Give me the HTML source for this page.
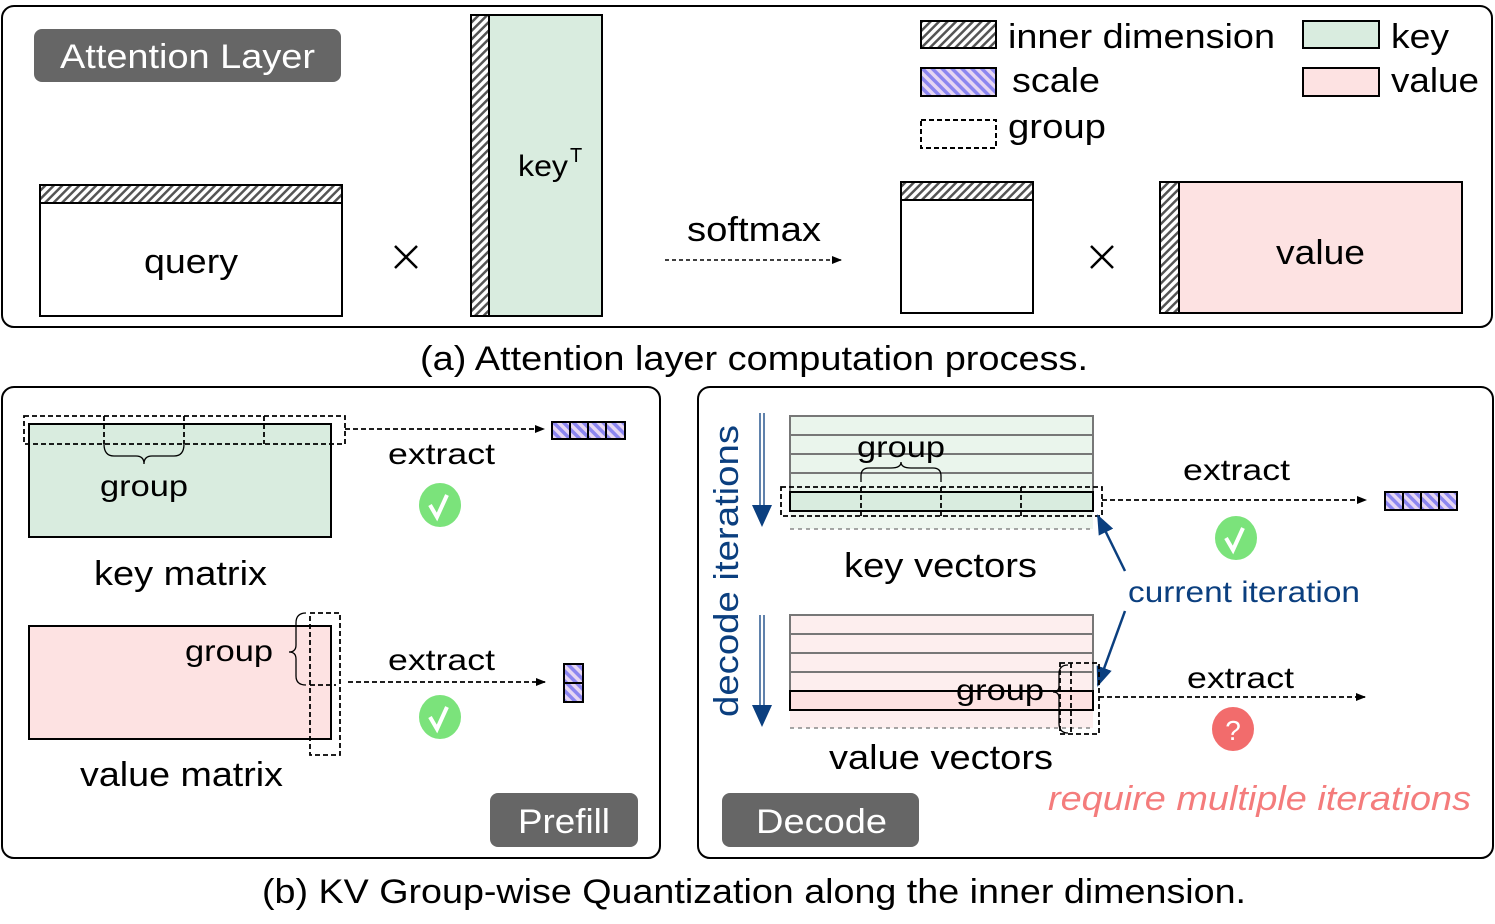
<!DOCTYPE html>
<html><head><meta charset="utf-8"><style>
html,body{margin:0;padding:0;background:#fff;}
svg{display:block;font-family:"Liberation Sans",sans-serif;}
</style></head><body>
<svg width="1495" height="924" viewBox="0 0 1495 924" xmlns="http://www.w3.org/2000/svg">
<defs>
<pattern id="hat" width="6" height="6" patternUnits="userSpaceOnUse" patternTransform="rotate(45)">
<rect width="6" height="6" fill="#fff"/><rect width="2.5" height="6" fill="#555"/></pattern>
<pattern id="sc" width="7" height="7" patternUnits="userSpaceOnUse" patternTransform="rotate(-45)">
<rect width="7" height="7" fill="#e6d6f2"/><rect width="3.5" height="7" fill="#8c86f0"/></pattern>
<marker id="ah" markerWidth="10" markerHeight="8" refX="9" refY="4" orient="auto" markerUnits="userSpaceOnUse">
<path d="M0,0 L10,4 L0,8 Z" fill="#000"/></marker>
<marker id="bh" markerWidth="20" markerHeight="16" refX="18" refY="8" orient="auto" markerUnits="userSpaceOnUse">
<path d="M0,0 L20,8 L0,16 Z" fill="#0b3f7f"/></marker>
</defs>

<!-- Top panel -->
<rect x="2" y="6" width="1490" height="321" rx="12" fill="none" stroke="#000" stroke-width="2"/>
<rect x="34" y="29" width="307" height="53" rx="8" fill="#666"/>
<text x="60" y="68" font-size="34" fill="#fff" textLength="255" lengthAdjust="spacingAndGlyphs">Attention Layer</text>

<rect x="40" y="185" width="302" height="18" fill="url(#hat)" stroke="#000" stroke-width="2"/>
<rect x="40" y="203" width="302" height="113" fill="#fff" stroke="#000" stroke-width="2"/>
<text x="144" y="273" font-size="34" textLength="94" lengthAdjust="spacingAndGlyphs">query</text>
<path d="M395,246 l22,22 M417,246 l-22,22" stroke="#000" stroke-width="2.5"/>

<rect x="471" y="15" width="18" height="301" fill="url(#hat)" stroke="#000" stroke-width="2"/>
<rect x="489" y="15" width="113" height="301" fill="#d9ecdf" stroke="#000" stroke-width="2"/>
<text x="518" y="176" font-size="30" textLength="50" lengthAdjust="spacingAndGlyphs">key</text><text x="570" y="162" font-size="20">T</text>

<text x="687" y="241" font-size="34" textLength="134" lengthAdjust="spacingAndGlyphs">softmax</text>
<line x1="665" y1="260" x2="841" y2="260" stroke="#000" stroke-width="1.5" stroke-dasharray="4,3" marker-end="url(#ah)"/>

<rect x="901" y="182" width="132" height="18" fill="url(#hat)" stroke="#000" stroke-width="2"/>
<rect x="901" y="200" width="132" height="113" fill="#fff" stroke="#000" stroke-width="2"/>
<path d="M1091,246 l22,22 M1113,246 l-22,22" stroke="#000" stroke-width="2.5"/>

<rect x="1160" y="182" width="19" height="131" fill="url(#hat)" stroke="#000" stroke-width="2"/>
<rect x="1179" y="182" width="283" height="131" fill="#fde2e2" stroke="#000" stroke-width="2"/>
<text x="1276" y="264" font-size="34" textLength="89" lengthAdjust="spacingAndGlyphs">value</text>

<!-- legend -->
<rect x="921" y="21" width="75" height="27" fill="url(#hat)" stroke="#000" stroke-width="2"/>
<text x="1008" y="48" font-size="34" textLength="267" lengthAdjust="spacingAndGlyphs">inner dimension</text>
<rect x="1303" y="21" width="76" height="27" fill="#d9ecdf" stroke="#000" stroke-width="2"/>
<text x="1391" y="48" font-size="34" textLength="58" lengthAdjust="spacingAndGlyphs">key</text>
<rect x="921" y="68" width="75" height="28" fill="url(#sc)" stroke="#000" stroke-width="2"/>
<text x="1012" y="92" font-size="34" textLength="88" lengthAdjust="spacingAndGlyphs">scale</text>
<rect x="1303" y="68" width="76" height="28" fill="#fde2e2" stroke="#000" stroke-width="2"/>
<text x="1391" y="92" font-size="34" textLength="88" lengthAdjust="spacingAndGlyphs">value</text>
<rect x="921" y="120" width="75" height="28" fill="none" stroke="#000" stroke-width="2" stroke-dasharray="5,3"/>
<text x="1008" y="138" font-size="34" textLength="98" lengthAdjust="spacingAndGlyphs">group</text>

<text x="420" y="370" font-size="34" textLength="668" lengthAdjust="spacingAndGlyphs">(a) Attention layer computation process.</text>

<!-- Bottom left -->
<rect x="2" y="387" width="658" height="471" rx="12" fill="none" stroke="#000" stroke-width="2"/>
<rect x="29" y="424" width="302" height="113" fill="#d9ecdf" stroke="#000" stroke-width="2"/>
<g fill="none" stroke="#000" stroke-width="1.8" stroke-dasharray="5,3">
<rect x="24" y="416" width="321" height="28"/>
<line x1="104" y1="416" x2="104" y2="444"/><line x1="184" y1="416" x2="184" y2="444"/><line x1="264" y1="416" x2="264" y2="444"/>
</g>
<path d="M104,444 q0,12 10,12 h22 q8,0 8,8 q0,-8 8,-8 h22 q10,0 10,-12" fill="none" stroke="#000" stroke-width="1.3"/>
<text x="100" y="496" font-size="30" textLength="88" lengthAdjust="spacingAndGlyphs">group</text>
<line x1="345" y1="429" x2="544" y2="429" stroke="#000" stroke-width="1.8" stroke-dasharray="5,3" marker-end="url(#ah)"/>
<g stroke="#000" stroke-width="2"><rect x="552" y="422" width="18" height="17" fill="url(#sc)"/><rect x="570" y="422" width="18" height="17" fill="url(#sc)"/><rect x="588" y="422" width="18" height="17" fill="url(#sc)"/><rect x="606" y="422" width="19" height="17" fill="url(#sc)"/></g>
<text x="388" y="464" font-size="30" textLength="107" lengthAdjust="spacingAndGlyphs">extract</text>
<ellipse cx="440" cy="505" rx="21" ry="22" fill="#7be37b"/><path d="M430,505 l7,12 l10,-22" fill="none" stroke="#fff" stroke-width="4"/>
<text x="94" y="585" font-size="34" textLength="173" lengthAdjust="spacingAndGlyphs">key matrix</text>

<rect x="29" y="626" width="302" height="113" fill="#fde2e2" stroke="#000" stroke-width="2"/>
<g fill="none" stroke="#000" stroke-width="1.8" stroke-dasharray="5,3">
<rect x="310" y="613" width="30" height="142"/><line x1="310" y1="685" x2="336" y2="685"/>
</g>
<path d="M306,613 q-10,0 -10,10 v22 q0,7 -7,7 q7,0 7,7 v17 q0,9 10,9" fill="none" stroke="#000" stroke-width="1.3"/>
<text x="185" y="661" font-size="30" textLength="88" lengthAdjust="spacingAndGlyphs">group</text>
<line x1="348" y1="682" x2="545" y2="682" stroke="#000" stroke-width="1.8" stroke-dasharray="5,3" marker-end="url(#ah)"/>
<g stroke="#000" stroke-width="2"><rect x="564" y="664" width="19" height="19" fill="url(#sc)"/><rect x="564" y="683" width="19" height="19" fill="url(#sc)"/></g>
<text x="388" y="670" font-size="30" textLength="107" lengthAdjust="spacingAndGlyphs">extract</text>
<ellipse cx="440" cy="717" rx="21" ry="22" fill="#7be37b"/><path d="M430,717 l7,12 l10,-22" fill="none" stroke="#fff" stroke-width="4"/>
<text x="80" y="786" font-size="34" textLength="203" lengthAdjust="spacingAndGlyphs">value matrix</text>
<rect x="490" y="793" width="148" height="54" rx="8" fill="#666"/>
<text x="518" y="833" font-size="34" fill="#fff" textLength="92" lengthAdjust="spacingAndGlyphs">Prefill</text>

<!-- Bottom right -->
<rect x="698" y="387" width="795" height="471" rx="12" fill="none" stroke="#000" stroke-width="2"/>
<text transform="translate(738,717) rotate(-90)" font-size="34" fill="#0b3f7f" textLength="292" lengthAdjust="spacingAndGlyphs">decode iterations</text>
<g stroke="#0b3f7f" stroke-width="1.3" fill="none">
<path d="M760,413 v92 M764,413 v92"/><path d="M760,615 v92 M764,615 v92"/></g>
<path d="M752,505 h20 l-10,22 z M752,705 h20 l-10,22 z" fill="#0b3f7f"/>

<!-- key vectors -->
<rect x="790" y="511" width="303" height="18" fill="#eef6ef"/>
<line x1="790" y1="529" x2="1093" y2="529" stroke="#888" stroke-width="1.5" stroke-dasharray="4,4"/>
<rect x="790" y="416" width="303" height="76" fill="#eaf5ec" stroke="#777" stroke-width="2"/>
<g stroke="#777" stroke-width="2"><line x1="790" y1="435" x2="1093" y2="435"/><line x1="790" y1="454" x2="1093" y2="454"/><line x1="790" y1="473" x2="1093" y2="473"/></g>
<rect x="790" y="492" width="303" height="19" fill="#d9ecdf" stroke="#000" stroke-width="2"/>
<g fill="none" stroke="#000" stroke-width="1.8" stroke-dasharray="5,3">
<rect x="781" y="487" width="321" height="29"/>
<line x1="861" y1="487" x2="861" y2="516"/><line x1="941" y1="487" x2="941" y2="516"/><line x1="1021" y1="487" x2="1021" y2="516"/>
</g>
<path d="M861,482 v-6 q0,-8 8,-8 h22 q10,0 10,-6 q0,6 10,6 h22 q8,0 8,8 v6" fill="none" stroke="#000" stroke-width="1.3"/>
<text x="857" y="457" font-size="30" textLength="88" lengthAdjust="spacingAndGlyphs">group</text>
<line x1="1102" y1="500" x2="1366" y2="500" stroke="#000" stroke-width="1.8" stroke-dasharray="5,3" marker-end="url(#ah)"/>
<g stroke="#000" stroke-width="2"><rect x="1385" y="492" width="18" height="18" fill="url(#sc)"/><rect x="1403" y="492" width="18" height="18" fill="url(#sc)"/><rect x="1421" y="492" width="18" height="18" fill="url(#sc)"/><rect x="1439" y="492" width="18" height="18" fill="url(#sc)"/></g>
<text x="1183" y="480" font-size="30" textLength="107" lengthAdjust="spacingAndGlyphs">extract</text>
<ellipse cx="1236" cy="538" rx="21" ry="22" fill="#7be37b"/><path d="M1226,538 l7,12 l10,-22" fill="none" stroke="#fff" stroke-width="4"/>
<text x="844" y="577" font-size="34" textLength="193" lengthAdjust="spacingAndGlyphs">key vectors</text>

<text x="1128" y="602" font-size="30" fill="#0b3f7f" textLength="232" lengthAdjust="spacingAndGlyphs">current iteration</text>
<line x1="1125" y1="571" x2="1098" y2="516" stroke="#0b3f7f" stroke-width="2.5" marker-end="url(#bh)"/>
<line x1="1125" y1="611" x2="1098" y2="685" stroke="#0b3f7f" stroke-width="2.5" marker-end="url(#bh)"/>

<!-- value vectors -->
<rect x="790" y="710" width="303" height="18" fill="#fdeeee"/>
<line x1="790" y1="728" x2="1093" y2="728" stroke="#888" stroke-width="1.5" stroke-dasharray="4,4"/>
<rect x="790" y="615" width="303" height="76" fill="#fdeeee" stroke="#777" stroke-width="2"/>
<g stroke="#777" stroke-width="2"><line x1="790" y1="634" x2="1093" y2="634"/><line x1="790" y1="653" x2="1093" y2="653"/><line x1="790" y1="672" x2="1093" y2="672"/></g>
<rect x="790" y="691" width="303" height="19" fill="#fde2e2" stroke="#000" stroke-width="2"/>
<g fill="none" stroke="#000" stroke-width="1.8" stroke-dasharray="5,3">
<rect x="1060" y="663" width="39" height="71"/><line x1="1071" y1="663" x2="1071" y2="734"/>
</g>
<path d="M1068,665 q-9,0 -9,9 v12 q0,6 -6,6 q6,0 6,6 v25 q0,10 9,10" fill="none" stroke="#000" stroke-width="1.3"/>
<text x="956" y="700" font-size="30" textLength="88" lengthAdjust="spacingAndGlyphs">group</text>
<line x1="1099" y1="697" x2="1365" y2="697" stroke="#000" stroke-width="1.8" stroke-dasharray="5,3" marker-end="url(#ah)"/>
<text x="1187" y="688" font-size="30" textLength="107" lengthAdjust="spacingAndGlyphs">extract</text>
<ellipse cx="1233" cy="729" rx="21" ry="22" fill="#f26c6c"/><text x="1233" y="740" font-size="28" fill="#fff" text-anchor="middle">?</text>
<text x="829" y="769" font-size="34" textLength="224" lengthAdjust="spacingAndGlyphs">value vectors</text>
<text x="1048" y="810" font-size="34" font-style="italic" fill="#f47c7c" textLength="423" lengthAdjust="spacingAndGlyphs">require multiple iterations</text>
<rect x="722" y="793" width="197" height="54" rx="8" fill="#666"/>
<text x="756" y="833" font-size="34" fill="#fff" textLength="131" lengthAdjust="spacingAndGlyphs">Decode</text>

<text x="262" y="903" font-size="34" textLength="984" lengthAdjust="spacingAndGlyphs">(b) KV Group-wise Quantization along the inner dimension.</text>
</svg>
</body></html>
